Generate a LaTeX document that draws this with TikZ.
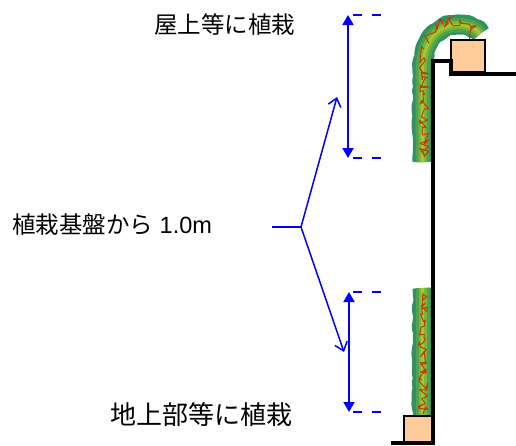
\documentclass[tikz,border=0pt]{standalone}
\usepackage{fontspec}
\setmainfont{Liberation Sans}
\newfontfamily\jpfont{Noto Sans CJK JP}
\usetikzlibrary{arrows.meta,decorations.pathmorphing}
\definecolor{dimblue}{RGB}{0,0,255}
\definecolor{peach}{RGB}{255,204,153}
\definecolor{vinered}{RGB}{190,60,10}
\definecolor{leafA}{RGB}{50,145,95}
\definecolor{leafB}{RGB}{80,162,78}
\definecolor{leafC}{RGB}{122,182,56}
\definecolor{leafD}{RGB}{165,200,45}
\begin{document}
\begin{tikzpicture}[x=1pt,y=-1pt,
  lbl/.style={inner sep=0pt, font=\fontsize{23.5}{28}\selectfont},
  biglbl/.style={inner sep=0pt, font=\fontsize{26}{31}\selectfont},
  wall/.style={line width=3.5pt, line join=miter},
  planter/.style={draw=black, fill=peach, line width=2pt, inner sep=0pt},
  dimarrow/.style={dimblue, line width=2pt,
    {Triangle[length=10pt,width=11pt]}-{Triangle[length=10pt,width=11pt]}},
  guide/.style={dimblue, line width=2pt, dash pattern=on 9pt off 10pt},
  brace/.style={dimblue, line width=1.5pt},
  pointer/.style={brace, -{Straight Barb[length=8pt,width=13pt]}},
  vine/.style={vinered, line width=1pt, line join=round,
    decorate, decoration={random steps, segment length=2.2pt, amplitude=5pt}},
  rooftopband/.style={insert path={(422.5,162) -- (422.5,72)
    .. controls (422.5,40) and (438,25) .. (458,25)
    .. controls (469,25) and (476,28) .. (480,34)}},
  groundband/.style={insert path={(422.5,288) -- (422.5,418)}},
  leaves/.style={line cap=butt, line join=round},
  rough/.style={decorate, decoration={random steps, segment length=5pt, amplitude=1.2pt}}
]
\useasboundingbox (0,0) rectangle (516,445);
\pgfmathsetseed{11}

% climbing foliage: ragged dark rim, then lighter layers toward the core
\draw[leaves, leafA, line width=20pt, rough, rooftopband];
\draw[leaves, leafA, line width=20pt, rough, groundband];
\foreach \w/\c in {14/leafB, 8/leafC, 3/leafD}{
  \draw[leaves, \c, line width=\w pt, rooftopband];
  \draw[leaves, \c, line width=\w pt, groundband];
}

% vines
\draw[vine] (424,157) -- (424,49);
\draw[vine] (427,40) .. controls (431,24) and (445,20) .. (460,22)
  .. controls (470,24) and (474,30) .. (470,35);
\coordinate (vineEnd) at (469,35);
\coordinate (vineHook) at (469,42);
\draw[vinered, line width=1pt] (vineEnd) -- (vineHook);
\draw[vine] (423,414) -- (423,293);

% planters
\node[planter, minimum width=34pt, minimum height=32pt] (roofbox) at (468,56) {};
\node[planter, minimum width=28pt, minimum height=27pt] (groundbox) at (418,429.5) {};

% building outline
\coordinate (w0) at (391,443);
\coordinate (w1) at (433,443);
\coordinate (w2) at (433,61);
\coordinate (w3) at (451,61);
\coordinate (w4) at (451,74);
\coordinate (w5) at (516,74);
\draw[wall] (w0) -- (w1) -- (w2) -- (w3) -- (w4) -- (w5);

% height markers
\coordinate (ua) at (348,15);
\coordinate (ub) at (348,158);
\coordinate (la) at (349,292);
\coordinate (lb) at (349,412);
\draw[dimarrow] (ua) -- (ub);
\draw[dimarrow] (la) -- (lb);
\foreach \y in {15,158,292,412}{
  \coordinate (g\y a) at (353,\y);
  \coordinate (g\y b) at (382,\y);
  \draw[guide] (g\y a) -- (g\y b);
}

% labels
\node[lbl] (roof) at (224.5,25) {\jpfont 屋上等に植栽};
\node[lbl, anchor=west] (basis) at (12,225) {{\jpfont 植栽基盤から} 1.0m};
\node[biglbl] (ground) at (201.5,415) {\jpfont 地上部等に植栽};

% fork from the label to both markers
\coordinate (stem) at (272,227);
\coordinate (fork) at (301,227);
\coordinate (upTip) at (337,97);
\coordinate (downTip) at (344,352);
\draw[brace] (stem) -- (fork);
\draw[pointer] (fork) -- (upTip);
\draw[pointer] (fork) -- (downTip);
\end{tikzpicture}
\end{document}
